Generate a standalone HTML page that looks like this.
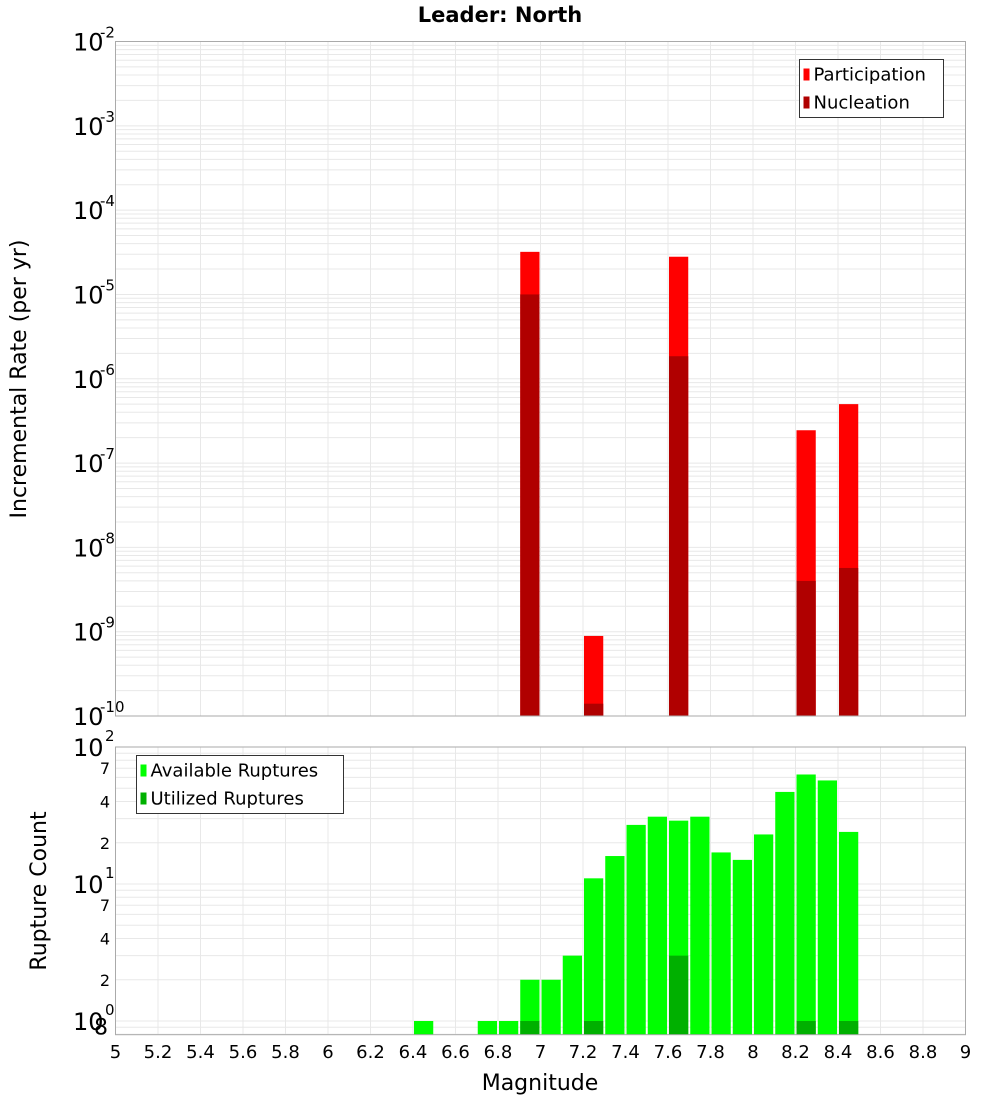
<!DOCTYPE html>
<html><head><meta charset="utf-8"><style>
body{margin:0;background:#fff;font-family:"Liberation Sans","DejaVu Sans",sans-serif;}
svg text{font-family:"DejaVu Sans","Liberation Sans",sans-serif;}
</style></head><body>
<svg id="c" width="1000" height="1100" xmlns="http://www.w3.org/2000/svg">
<rect width="1000" height="1100" fill="#fff"/>
<text x="500" y="22" text-anchor="middle" font-size="21" font-weight="bold">Leader: North</text>
<g id="topPanel"></g>
<g id="botPanel"></g>
<text transform="translate(26,379) rotate(-90)" text-anchor="middle" font-size="22">Incremental Rate (per yr)</text>
<text transform="translate(46,891) rotate(-90)" text-anchor="middle" font-size="22">Rupture Count</text>
<text x="540" y="1090" text-anchor="middle" font-size="22">Magnitude</text>
</svg>
<script>
const rateMags=[6.95,7.25,7.65,8.25,8.45];
const participation=[3.2e-5,8.9e-10,2.8e-5,2.45e-7,5e-7];
const nucleation=[1e-5,1.4e-10,1.85e-6,4e-9,5.7e-9];
const countMags=[6.45,6.75,6.85,6.95,7.05,7.15,7.25,7.35,7.45,7.55,7.65,7.75,7.85,7.95,8.05,8.15,8.25,8.35,8.45];
const available=[1,1,1,2,2,3,11,16,27,31,29,31,17,15,23,47,63,57,24];
const utilizedMags=[6.95,7.25,7.65,8.25,8.45];
const utilized=[1,1,3,1,1];
const xTicks=["5","5.2","5.4","5.6","5.8","6","6.2","6.4","6.6","6.8","7","7.2","7.4","7.6","7.8","8","8.2","8.4","8.6","8.8","9"];

const NS="http://www.w3.org/2000/svg";
const X0=115.5,X1=965.5;
const x=m=>X0+(m-5)/4*(X1-X0);
const T0=41.5,T1=716;
const yTop=v=>T0+(-2-Math.log10(v))*(T1-T0)/8;
const B0=747,BD=137,B1=B0+2.1*BD;
const yBot=v=>B0+(2-Math.log10(v))*BD;
function mk(p,tag,at){const e=document.createElementNS(NS,tag);for(const k in at)e.setAttribute(k,at[k]);p.appendChild(e);return e;}
const topG=document.getElementById('topPanel'),botG=document.getElementById('botPanel');

function xgrid(g,y0,y1){xTicks.forEach(t=>{const l=mk(g,'line',{x1:x(+t),x2:x(+t),y1:y0,y2:y1,stroke:'#e8e8e8'});

});}
xgrid(topG,T0,T1);xgrid(botG,B0,B1);
for(let e=-10;e<-2;e++)for(let k=1;k<10;k++){const v=k*Math.pow(10,e);const y=yTop(v);
const l=mk(topG,'line',{x1:X0,x2:X1,y1:y,y2:y,stroke:'#e8e8e8'});

}
for(let e=-1;e<2;e++)for(let k=1;k<10;k++){const v=k*Math.pow(10,e);const y=yBot(v);if(y>B1)continue;
const l=mk(botG,'line',{x1:X0,x2:X1,y1:y,y2:y,stroke:'#e8e8e8'});

}

function bar(g,m,v,base,yf,col,name){const y=yf(v);const r=mk(g,'rect',{x:x(m-0.05)+1,y:y,width:x(m+0.05)-x(m-0.05)-2,height:base-y,fill:col});

}
rateMags.forEach((m,i)=>bar(topG,m,participation[i],T1,yTop,'#ff0000','participation-bar'));
rateMags.forEach((m,i)=>bar(topG,m,nucleation[i],T1,yTop,'#b00000','nucleation-bar'));
countMags.forEach((m,i)=>bar(botG,m,available[i],B1,yBot,'#00ff00','available-bar'));
utilizedMags.forEach((m,i)=>bar(botG,m,utilized[i],B1,yBot,'#00b000','utilized-bar'));

let f=mk(topG,'rect',{x:X0,y:T0,width:X1-X0,height:T1-T0,fill:'none',stroke:'#aaa'});


f=mk(botG,'rect',{x:X0,y:B0,width:X1-X0,height:B1-B0,fill:'none',stroke:'#aaa'});



for(let e=-10;e<=-2;e++){const y=yTop(Math.pow(10,e));
const t=mk(topG,'text',{x:73,y:y+9,'font-size':24});t.textContent='10';


const s=mk(topG,'text',{x:100,y:y-4,'font-size':15});s.textContent=String(e);

}
[[0,'0'],[1,'1'],[2,'2']].forEach(([e,s])=>{const y=yBot(Math.pow(10,e));
const t=mk(botG,'text',{x:73,y:y+9,'font-size':24});t.textContent='10';


const u=mk(botG,'text',{x:105,y:y-6,'font-size':15});u.textContent=s;

});
[[0.8,'8'],[2,'2'],[4,'4'],[7,'7'],[20,'2'],[40,'4'],[70,'7']].forEach(([v,s])=>{const y=yBot(v);
const t=mk(botG,'text',{x:v<1?108:110,y:y+(v<1?0:6),'font-size':v<1?22:16,'text-anchor':'end'});t.textContent=s;

});
xTicks.forEach(s=>{const t=mk(botG,'text',{x:x(+s),y:1058,'font-size':18,'text-anchor':'middle'});t.textContent=s;

});

function legend(g,bx,by,w,items){const r=mk(g,'rect',{x:bx,y:by,width:w,height:58,fill:'#fff',stroke:'#333'});


items.forEach(([lab,col],i)=>{const s=mk(g,'rect',{x:bx+4,y:by+9+i*28,width:6,height:12,fill:col});


const t=mk(g,'text',{x:bx+14,y:by+21+i*28,'font-size':18});t.textContent=lab;

});}
legend(topG,799.5,59.5,144,[['Participation','#ff0000'],['Nucleation','#b00000']]);
legend(botG,136.5,755.5,207,[['Available Ruptures','#00ff00'],['Utilized Ruptures','#00b000']]);
</script>
</body></html>
